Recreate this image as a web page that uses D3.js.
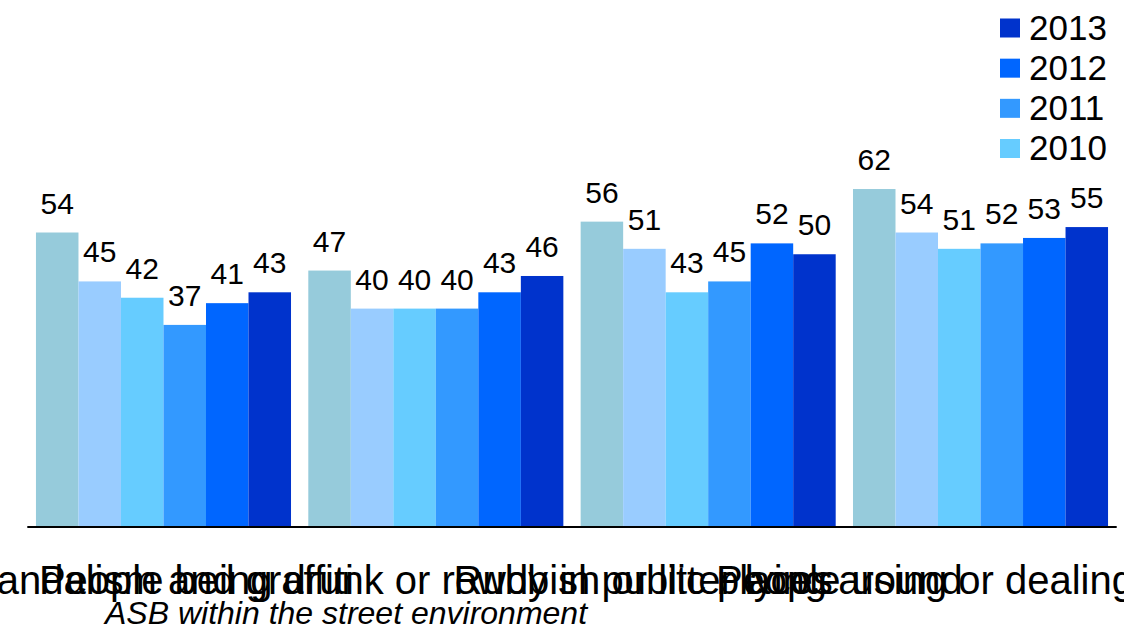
<!DOCTYPE html>
<html>
<head>
<meta charset="utf-8">
<script src="https://cdn.jsdelivr.net/npm/d3@7"></script>
<style>
  html, body { margin: 0; padding: 0; background: #fff; }
  svg { display: block; }
  text { font-family: "Liberation Sans", Arial, sans-serif; fill: #000; }
</style>
</head>
<body>
<svg id="chart" width="1124" height="628"></svg>
<script>
// ---- data ----
const categories = [
  "Vandalism and graffiti",
  "People being drunk or rowdy in public places",
  "Rubbish or litter lying around",
  "People using or dealing drugs"
];
const seriesNames = ["2008", "2009", "2010", "2011", "2012", "2013"];
const values2008 = [54, 47, 56, 62];
const values2009 = [45, 40, 51, 54];
const values2010 = [42, 40, 43, 51];
const values2011 = [37, 40, 45, 52];
const values2012 = [41, 43, 52, 53];
const values2013 = [43, 46, 50, 55];
const seriesValues = [values2008, values2009, values2010, values2011, values2012, values2013];
const legendNames = ["2013", "2012", "2011", "2010"];
const axisTitle = "ASB within the street environment";

// ---- styles ----
const colors = {
  "2008": "#96CBDB",
  "2009": "#99CCFF",
  "2010": "#66CCFF",
  "2011": "#3399FF",
  "2012": "#0066FF",
  "2013": "#0033CC"
};

const svg = d3.select("#chart");
const baseY = 526;

const x0 = d3.scaleBand()
  .domain(categories)
  .range([27.3, 1116.7])
  .paddingInner(0.0635)
  .paddingOuter(0.0318);

const x1 = d3.scaleBand()
  .domain(seriesNames)
  .range([0, x0.bandwidth()])
  .padding(0);

const y = d3.scaleLinear()
  .domain([0, 100])
  .range([baseY, baseY - 543.5]);

const rows = categories.map((c, i) => ({
  cat: c,
  vals: seriesNames.map((s, j) => ({ s, v: seriesValues[j][i] }))
}));

const g = svg.append("g");
const groups = g.selectAll("g.grp").data(rows).join("g")
  .attr("class", "grp")
  .attr("transform", d => `translate(${x0(d.cat)},0)`);

groups.selectAll("rect").data(d => d.vals).join("rect")
  .attr("x", d => x1(d.s))
  .attr("width", x1.bandwidth())
  .attr("y", d => y(d.v))
  .attr("height", d => baseY - y(d.v))
  .attr("fill", d => colors[d.s]);

groups.selectAll("text.val").data(d => d.vals).join("text")
  .attr("class", "val")
  .attr("x", d => x1(d.s) + x1.bandwidth() / 2)
  .attr("y", d => y(d.v) - 19)
  .attr("text-anchor", "middle")
  .style("font-size", "30px")
  .text(d => d.v);

// x axis
const xAxis = d3.axisBottom(x0).tickSize(0).tickPadding(0);
const axG = svg.append("g")
  .attr("transform", `translate(0,${baseY + 1})`)
  .call(xAxis);
axG.select(".domain")
  .attr("d", `M${x0.range()[0]},0H${x0.range()[1]}`)
  .attr("stroke", "#000")
  .attr("stroke-width", 2);
axG.selectAll(".tick text")
  .attr("y", 67)
  .attr("dy", null)
  .style("font-size", "40px")
  .style("font-family", "'Liberation Sans', Arial, sans-serif")
  .attr("fill", "#000");

svg.append("text")
  .attr("x", 105)
  .attr("y", 624)
  .style("font-size", "32px")
  .style("font-style", "italic")
  .text(axisTitle);

// legend
const legend = svg.append("g");
const legendY = d3.scalePoint().domain(legendNames).range([28, 148.5]);
const li = legend.selectAll("g").data(legendNames).join("g")
  .attr("transform", d => `translate(1000,${legendY(d)})`);
li.append("rect")
  .attr("x", 0).attr("y", -9.5)
  .attr("width", 20).attr("height", 19)
  .attr("fill", d => colors[d]);
li.append("text")
  .attr("x", 29)
  .attr("y", 11.5)
  .style("font-size", "35px")
  .text(d => d);
</script>
</body>
</html>
